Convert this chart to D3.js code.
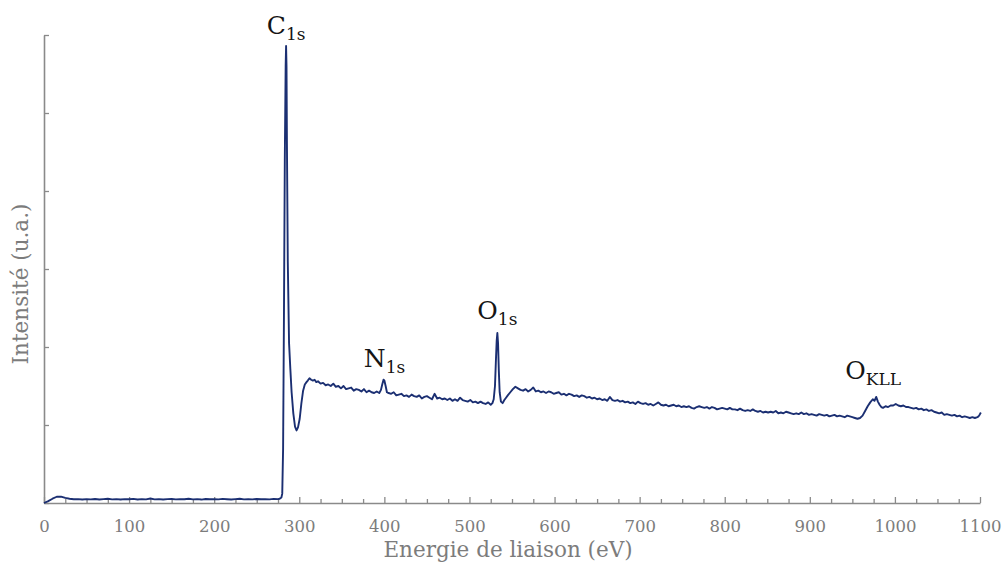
<!DOCTYPE html>
<html>
<head>
<meta charset="utf-8">
<script src="https://cdn.jsdelivr.net/npm/d3@7"></script>
<style>
  html, body { margin: 0; padding: 0; background: #fff; }
  svg { display: block; }
</style>
</head>
<body>
<svg id="chart" width="1006" height="564"></svg>
<script>
// ---- Data ----
const energy = [
  0,5,10,15,20,25,30,35,40,45,50,55,60,65,70,75,80,85,90,95,
  100,105,110,115,120,125,130,135,140,145,150,155,160,165,170,175,180,185,190,195,
  200,205,210,215,220,225,230,235,240,245,250,255,260,265,270,275,
  277,279,280,281,282,283,284,284.5,285,285.5,286.5,288,289.5,291,293,295,296.8,298.5,300.5,302.5,304.5,306.5,308.5,
  310,312,314,316,318,320,322,325,328,331,334,337,340,343,346,349,352,355,358,361,364,367,370,373,376,379,382,385,388,391,394,
  396,397.5,399,400,401.5,403,405,408,411,414,417,420,423,426,429,432,435,438,441,444,447,450,453,456,459,462,465,468,471,474,477,480,
  483,486,489,492,495,498,501,504,507,510,513,516,519,522,525,527,528.5,530,531,532,532.8,533.6,534.5,535.5,537,539,541,543,545,548,551,554,
  557,560,563,566,569,572,575,578,581,584,587,590,593,596,599,602,605,608,611,614,617,620,623,626,629,632,635,638,641,644,647,650,
  653,656,659,662,665,668,671,674,677,680,683,686,689,692,695,698,701,704,707,710,713,716,719,722,725,728,731,734,737,740,743,746,749,
  752,755,758,761,764,767,770,773,776,779,782,785,788,791,794,797,800,803,806,809,812,815,818,821,824,827,830,833,836,839,842,845,848,
  851,854,857,860,863,866,869,872,875,878,881,884,887,890,893,896,899,902,905,908,911,914,917,920,923,926,929,932,935,938,941,944,947,
  950,953,956,959,962,965,968,971,974,976,978,980,982,984,986,989,992,995,998,1001,1004,1007,1010,1013,1016,1019,1022,1025,1028,1031,
  1034,1037,1040,1043,1046,1049,1052,1055,1058,1061,1064,1067,1070,1073,1076,1079,1082,1085,1088,1091,1094,1097,1099,1101
];
const intensity = [
  0.00,0.025,0.055,0.08,0.082,0.065,0.055,0.048,0.05,0.044,0.05,0.046,0.052,0.045,0.05,0.055,0.047,0.05,0.044,0.05,
  0.048,0.053,0.045,0.05,0.047,0.058,0.046,0.05,0.044,0.05,0.052,0.046,0.05,0.048,0.055,0.047,0.05,0.044,0.052,0.048,
  0.05,0.046,0.053,0.049,0.045,0.05,0.055,0.047,0.05,0.046,0.052,0.048,0.05,0.047,0.053,0.05,
  0.055,0.07,0.12,0.7,2.4,4.4,5.6,5.86,5.6,4.6,3.1,2.05,1.72,1.42,1.15,0.98,0.93,0.97,1.08,1.28,1.44,1.52,1.55,
  1.57,1.6,1.58,1.57,1.58,1.55,1.56,1.53,1.54,1.51,1.52,1.5,1.53,1.49,1.5,1.47,1.5,1.46,1.47,1.48,1.44,1.46,1.45,1.43,1.46,1.42,1.44,1.42,1.41,1.43,1.41,
  1.45,1.52,1.58,1.57,1.5,1.42,1.41,1.4,1.42,1.38,1.39,1.4,1.37,1.38,1.36,1.39,1.37,1.36,1.38,1.34,1.36,1.37,1.35,1.33,1.4,1.34,1.35,1.33,1.34,1.32,1.34,1.31,
  1.33,1.31,1.35,1.32,1.31,1.3,1.32,1.29,1.3,1.28,1.3,1.28,1.27,1.29,1.26,1.28,1.33,1.5,1.8,2.08,2.18,2.05,1.7,1.42,1.3,1.28,1.32,1.35,1.38,1.42,1.46,1.49,
  1.47,1.45,1.44,1.46,1.43,1.45,1.48,1.43,1.44,1.42,1.43,1.41,1.43,1.42,1.4,1.41,1.42,1.39,1.4,1.38,1.4,1.39,1.37,1.38,1.36,1.38,1.37,1.35,1.36,1.34,1.35,1.33,
  1.34,1.32,1.33,1.31,1.36,1.32,1.31,1.32,1.3,1.31,1.29,1.3,1.28,1.29,1.27,1.3,1.28,1.27,1.28,1.26,1.27,1.25,1.27,1.29,1.26,1.25,1.26,1.24,1.25,1.26,1.24,1.25,1.23,
  1.24,1.23,1.24,1.22,1.21,1.23,1.24,1.23,1.22,1.23,1.21,1.23,1.22,1.2,1.21,1.22,1.21,1.2,1.22,1.2,1.2,1.19,1.21,1.19,1.18,1.19,1.18,1.2,1.18,1.17,1.18,1.16,1.17,
  1.16,1.17,1.16,1.18,1.15,1.16,1.15,1.17,1.16,1.15,1.14,1.15,1.14,1.16,1.14,1.15,1.13,1.14,1.13,1.12,1.14,1.13,1.12,1.13,1.11,1.12,1.13,1.11,1.12,1.11,1.1,1.12,1.11,
  1.1,1.09,1.08,1.09,1.12,1.18,1.24,1.29,1.33,1.31,1.36,1.3,1.26,1.23,1.22,1.24,1.23,1.25,1.25,1.27,1.25,1.24,1.25,1.23,1.23,1.22,1.21,1.22,1.2,1.21,
  1.19,1.2,1.18,1.19,1.17,1.16,1.15,1.16,1.13,1.14,1.13,1.12,1.13,1.11,1.12,1.1,1.11,1.1,1.09,1.1,1.09,1.1,1.12,1.16
];
const xTicks = [0,100,200,300,400,500,600,700,800,900,1000,1100];
const yTicks = [0,1,2,3,4,5,6];
const peakNames = ["C","N","O","O"];
const peakSubs = ["1s","1s","1s","KLL"];
const peakEnergies = [284.5, 399, 532.8, 978];

// ---- Layout ----
const svg = d3.select("#chart");
const mLeft = 44, mRight = 980, mTop = 35, mBottom = 503;
const x = d3.scaleLinear().domain([0, 1100]).range([mLeft, mRight]);
const y = d3.scaleLinear().domain([0, 6]).range([mBottom, mTop]);
const axisColor = "#8a8a8a", textColor = "#7c7c7c", lineColor = "#1b2f72";
const serif = "'DejaVu Serif', serif";

// Minor x ticks (every 25)
const minorX = d3.range(0, 1101, 25).filter(v => v % 100 !== 0);
svg.append("g").attr("transform", `translate(0,${mBottom})`)
  .call(d3.axisBottom(x).tickValues(minorX).tickSizeInner(-4).tickSizeOuter(0).tickFormat(""))
  .call(g => g.select(".domain").remove())
  .call(g => g.selectAll("line").attr("stroke", axisColor).attr("stroke-width", 1.3));

// Major x axis
svg.append("g").attr("transform", `translate(0,${mBottom})`)
  .call(d3.axisBottom(x).tickValues(xTicks).tickSizeInner(-6).tickSizeOuter(0).tickPadding(17).tickFormat(d3.format("d")))
  .call(g => g.select(".domain").attr("stroke", axisColor).attr("stroke-width", 1.6))
  .call(g => g.selectAll("line").attr("stroke", axisColor).attr("stroke-width", 1.3))
  .call(g => g.selectAll("text").attr("fill", textColor).style("font-family", serif).style("font-size", "16.5px"));

// Y axis
svg.append("g").attr("transform", `translate(${mLeft},0)`)
  .call(d3.axisLeft(y).tickValues(yTicks).tickSizeInner(-5).tickSizeOuter(0).tickFormat(""))
  .call(g => g.select(".domain").attr("stroke", axisColor).attr("stroke-width", 1.6))
  .call(g => g.selectAll("line").attr("stroke", axisColor).attr("stroke-width", 1.3));

// Spectrum
const n = Math.min(energy.length, intensity.length);
const pts = d3.range(n).map(i => [energy[i], intensity[i]]);
svg.append("path")
  .datum(pts)
  .attr("fill", "none")
  .attr("stroke", lineColor)
  .attr("stroke-width", 1.9)
  .attr("stroke-linejoin", "round")
  .attr("d", d3.line().x(d => x(d[0])).y(d => y(d[1])));

// Peak labels
const labelGap = [12, 13, 14, 18];
const labelShift = [0, 1, 0, -3];
peakNames.forEach((name, i) => {
  const e = peakEnergies[i];
  const near = pts.filter(p => Math.abs(p[0] - e) <= 3);
  const peakV = d3.max(near, p => p[1]);
  const t = svg.append("text")
    .attr("x", x(e) + labelShift[i])
    .attr("y", y(peakV) - labelGap[i])
    .attr("text-anchor", "middle")
    .attr("fill", "#151515")
    .style("font-family", serif)
    .style("font-size", "25px");
  t.append("tspan").text(name);
  t.append("tspan").attr("dy", 6).style("font-size", "17px").text(peakSubs[i]);
});

// Axis titles
svg.append("text")
  .attr("x", 508)
  .attr("y", 557)
  .attr("text-anchor", "middle")
  .attr("fill", textColor)
  .style("font-family", serif)
  .style("font-size", "21.5px")
  .text("Energie de liaison (eV)");

svg.append("text")
  .attr("transform", `translate(28,284) rotate(-90)`)
  .attr("text-anchor", "middle")
  .attr("fill", textColor)
  .style("font-family", serif)
  .style("font-size", "21.5px")
  .text("Intensité (u.a.)");
</script>
</body>
</html>
